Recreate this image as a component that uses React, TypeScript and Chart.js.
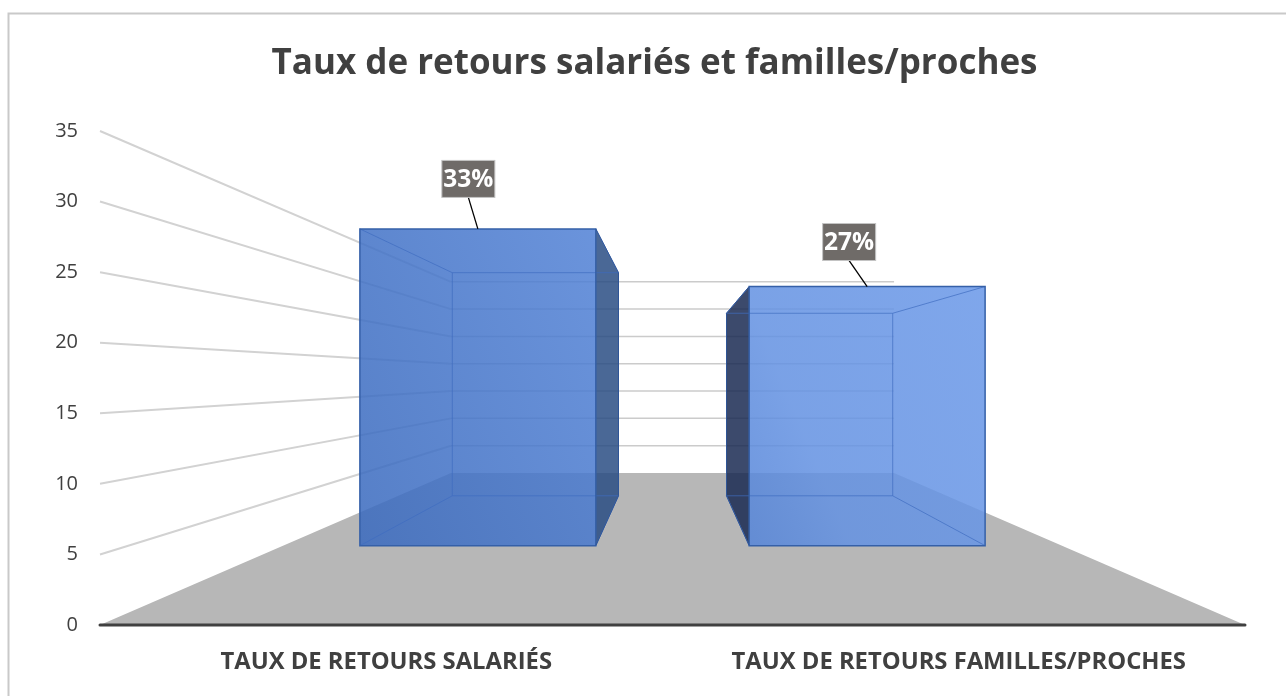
import React, { useEffect, useRef } from "react";
import { Chart, registerables } from "chart.js";

Chart.register(...registerables);

const categories = ["TAUX DE RETOURS SALARIÉS", "TAUX DE RETOURS FAMILLES/PROCHES"];
const values = [33, 27];
const titleText = "Taux de retours salariés et familles/proches";
const yMax = 35;
const yStep = 5;

// Perspective of the 3D scene, as ratios of the plot
const wallScale = 0.387;
const barFrontScale = 0.68;
const barBackScale = 0.479;
const horizon = 0.502;
const labelOffsets = [
  { dx: -9.5, dy: -50 },
  { dx: -18, dy: -44.5 },
];

const scene3d = {
  id: "scene3d",
  afterLayout(chart: any) {
    // the left padding only centres the title: let the tick labels use that room too
    chart.scales.y.left = 0;
  },
  beforeDatasetsDraw(chart: any) {
    const { ctx, chartArea: a, scales, width, height } = chart;
    const y = scales.y;
    const cx = (a.left + a.right) / 2;
    const vy = a.bottom - (a.bottom - a.top) * horizon;
    const P = (px: number, py: number, s: number): [number, number] => [cx + (px - cx) * s, vy + (py - vy) * s];
    const base = y.getPixelForValue(0);

    ctx.save();
    // frame: only the top and left edges fall inside the picture
    ctx.strokeStyle = "#c9c9c9";
    ctx.lineWidth = 2;
    ctx.beginPath();
    ctx.moveTo(8.5, height);
    ctx.lineTo(8.5, 13.5);
    ctx.lineTo(width, 13.5);
    ctx.stroke();

    // floor
    const fl = P(a.left, base, wallScale);
    const fr = P(a.right, base, wallScale);
    ctx.fillStyle = "#b7b7b7";
    ctx.beginPath();
    ctx.moveTo(a.left, base);
    ctx.lineTo(a.right, base);
    ctx.lineTo(fr[0], fr[1]);
    ctx.lineTo(fl[0], fl[1]);
    ctx.closePath();
    ctx.fill();

    // side wall and back wall grid lines
    for (let v = yStep; v <= yMax; v += yStep) {
      const py = y.getPixelForValue(v);
      const b = P(a.left, py, wallScale);
      const br = P(a.right, py, wallScale);
      ctx.strokeStyle = "#d2d2d2";
      ctx.lineWidth = 2;
      ctx.beginPath();
      ctx.moveTo(a.left, py);
      ctx.lineTo(b[0], b[1]);
      ctx.stroke();
      ctx.strokeStyle = "#cbcbcb";
      ctx.lineWidth = 1.5;
      ctx.beginPath();
      ctx.moveTo(b[0], b[1]);
      ctx.lineTo(br[0], br[1]);
      ctx.stroke();
    }

    // axis line
    ctx.strokeStyle = "#404040";
    ctx.lineWidth = 3;
    ctx.lineCap = "round";
    ctx.beginPath();
    ctx.moveTo(a.left, base);
    ctx.lineTo(a.right, base);
    ctx.stroke();
    ctx.restore();
  },
  afterDatasetsDraw(chart: any) {
    const { ctx, chartArea: a, scales } = chart;
    const y = scales.y;
    const cx = (a.left + a.right) / 2;
    const vy = a.bottom - (a.bottom - a.top) * horizon;
    const P = (px: number, py: number, s: number): [number, number] => [cx + (px - cx) * s, vy + (py - vy) * s];
    const poly = (pts: [number, number][]) => {
      ctx.beginPath();
      pts.forEach((p, i) => (i ? ctx.lineTo(p[0], p[1]) : ctx.moveTo(p[0], p[1])));
      ctx.closePath();
    };
    const seg = (p: [number, number], q: [number, number]) => {
      ctx.beginPath();
      ctx.moveTo(p[0], p[1]);
      ctx.lineTo(q[0], q[1]);
      ctx.stroke();
    };
    const meta = chart.getDatasetMeta(0);
    const bars = meta.data;
    const f0 = (x: number, py: number) => P(x, py, barFrontScale);
    const gA = f0(bars[0].x - bars[0].width / 2, bars[0].base);
    const gB = f0(bars[1].x + bars[1].width / 2, y.getPixelForValue(values[1]));
    const grad = ctx.createLinearGradient(gA[0], gA[1], gB[0], gB[1]);
    grad.addColorStop(0, "rgba(58,106,190,0.86)");
    grad.addColorStop(0.5, "rgba(82,130,214,0.86)");
    grad.addColorStop(0.67, "rgba(100,146,226,0.86)");
    grad.addColorStop(1, "rgba(106,152,232,0.86)");

    ctx.save();
    bars.forEach((bar: any, i: number) => {
      const L = bar.x - bar.width / 2;
      const R = bar.x + bar.width / 2;
      const T = bar.y;
      const B = bar.base;
      const fTL = P(L, T, barFrontScale), fTR = P(R, T, barFrontScale), fBL = P(L, B, barFrontScale), fBR = P(R, B, barFrontScale);
      const bTL = P(L, T, barBackScale), bTR = P(R, T, barBackScale), bBL = P(L, B, barBackScale), bBR = P(R, B, barBackScale);
      const leftOfCentre = bar.x < cx;

      // visible side face
      const side: [number, number][] = leftOfCentre ? [fTR, bTR, bBR, fBR] : [fTL, bTL, bBL, fBL];
      ctx.fillStyle = leftOfCentre ? "rgba(42,78,132,0.85)" : "rgba(26,42,82,0.85)";
      poly(side);
      ctx.fill();

      // front face
      ctx.fillStyle = grad;
      poly([fTL, fTR, fBR, fBL]);
      ctx.fill();

      // inner edges
      ctx.strokeStyle = "rgba(62,108,192,0.7)";
      ctx.lineWidth = 1;
      poly([bTL, bTR, bBR, bBL]);
      ctx.stroke();
      seg(fTL, bTL);
      seg(fTR, bTR);
      seg(fBL, bBL);
      seg(fBR, bBR);

      // outer edges
      ctx.strokeStyle = "#3560a8";
      ctx.lineWidth = 1.5;
      poly([fTL, fTR, fBR, fBL]);
      ctx.stroke();
      ctx.lineWidth = 1;
      ctx.strokeStyle = "#2f5597";
      seg(side[1], side[2]);
      seg(side[2], side[3]);
      seg(side[0], side[1]);

      // data label with leader
      const topMid: [number, number] = [(fTL[0] + fTR[0]) / 2, fTL[1]];
      const off = labelOffsets[i];
      const lx = topMid[0] + off.dx;
      const ly = topMid[1] + off.dy;
      const w = 53;
      const h = 37;
      ctx.strokeStyle = "#000000";
      ctx.lineWidth = 1.3;
      seg([lx, ly + h / 2], topMid);
      ctx.fillStyle = "#6f6b68";
      ctx.strokeStyle = "#c4c4c4";
      ctx.lineWidth = 1;
      ctx.fillRect(lx - w / 2, ly - h / 2, w, h);
      ctx.strokeRect(lx - w / 2, ly - h / 2, w, h);
      ctx.fillStyle = "#ffffff";
      ctx.font = 'bold 24.5px "Open Sans"';
      ctx.textAlign = "center";
      ctx.textBaseline = "middle";
      ctx.fillText(`${values[i]}%`, lx, ly + 1);
    });
    ctx.restore();
  },
};

export default function App() {
  const ref = useRef<HTMLCanvasElement | null>(null);
  useEffect(() => {
    const chart = new Chart(ref.current as HTMLCanvasElement, {
      type: "bar",
      data: {
        labels: categories,
        datasets: [
          {
            data: values,
            backgroundColor: "rgba(0,0,0,0)",
            borderWidth: 0,
            barPercentage: 0.606,
            categoryPercentage: 1,
          },
        ],
      },
      options: {
        responsive: false,
        animation: false,
        layout: { padding: { left: 64, right: 41, top: 0, bottom: 0 } },
        plugins: {
          legend: { display: false },
          tooltip: { enabled: false },
          title: {
            display: true,
            text: titleText,
            color: "#404040",
            font: { family: '"Open Sans"', size: 35, weight: "bold" },
            padding: { top: 43, bottom: 46 },
          },
        },
        scales: {
          x: {
            grid: { display: false },
            border: { display: false },
            afterFit: (s: any) => {
              s.height = 71;
            },
            ticks: {
              autoSkip: false,
              maxRotation: 0,
              minRotation: 0,
              padding: 15,
              color: "#404040",
              font: { family: '"Open Sans"', size: 23.8, weight: "bold" },
            },
          },
          y: {
            min: 0,
            max: yMax,
            grid: { display: false },
            border: { display: false },
            afterFit: (s: any) => {
              s.width = 36;
            },
            ticks: {
              stepSize: yStep,
              padding: 14,
              color: "#404040",
              font: { family: '"Open Sans"', size: 20 },
            },
          },
        },
      },
      plugins: [scene3d],
    } as any);
    return () => chart.destroy();
  }, []);
  return (
    <div style={{ position: "absolute", left: 0, top: 0, width: 1286, height: 696, background: "#fff", overflow: "hidden" }}>
      <canvas ref={ref} width={1286} height={696} style={{ display: "block" }} />
    </div>
  );
}
